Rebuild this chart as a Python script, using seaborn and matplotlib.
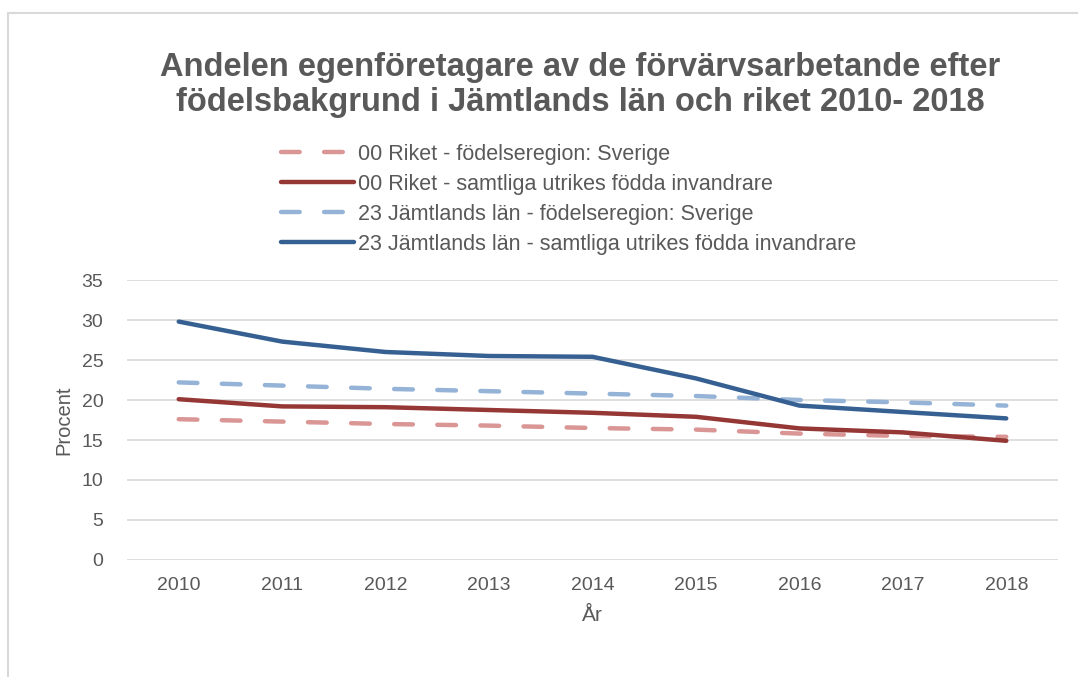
import pandas as pd
import matplotlib
matplotlib.use("Agg")
import matplotlib.pyplot as plt
from matplotlib.patches import Rectangle
import seaborn as sns

# data
years = ["2010", "2011", "2012", "2013", "2014", "2015", "2016", "2017", "2018"]
riket_sverige = [17.6, 17.3, 17.0, 16.8, 16.5, 16.3, 15.8, 15.5, 15.4]
riket_utrikes = [20.1, 19.2, 19.1, 18.75, 18.4, 17.9, 16.45, 15.95, 14.9]
jamt_sverige = [22.2, 21.8, 21.4, 21.1, 20.8, 20.5, 20.0, 19.7, 19.3]
jamt_utrikes = [29.8, 27.3, 26.0, 25.5, 25.4, 22.7, 19.3, 18.5, 17.7]

series_names = [
    "00 Riket - födelseregion: Sverige",
    "00 Riket - samtliga utrikes födda invandrare",
    "23 Jämtlands län - födelseregion: Sverige",
    "23 Jämtlands län - samtliga utrikes födda invandrare",
]
series_values = [riket_sverige, riket_utrikes, jamt_sverige, jamt_utrikes]

df = pd.concat(
    [pd.DataFrame({"År": years, "Procent": vals, "serie": name})
     for name, vals in zip(series_names, series_values)],
    ignore_index=True,
)

palette = dict(zip(series_names, ["#D99694", "#953735", "#95B3D7", "#376092"]))
dashes = dict(zip(series_names, [(4.2, 5.5), "", (4.2, 5.5), ""]))

sns.set_style("white")
plt.rcParams["font.family"] = ["Liberation Sans", "DejaVu Sans"]
text_color = "#595959"

fig = plt.figure(figsize=(10.78, 6.77), dpi=100)
ax = fig.add_axes([127 / 1078, 117 / 677, 931 / 1078, 280 / 677])

sns.lineplot(data=df, x="År", y="Procent", hue="serie", style="serie",
             palette=palette, dashes=dashes, linewidth=3.2, sort=False,
             dash_capstyle="round", solid_capstyle="round", ax=ax, legend=False)

ax.set_xlim(-0.5, len(years) - 0.5)
ax.set_ylim(0, 35)
ax.set_yticks(range(0, 36, 5))
ax.grid(axis="y", color="#D9D9D9", lw=1.2)
ax.grid(axis="x", visible=False)
ax.set_axisbelow(True)
for s in ax.spines.values():
    s.set_visible(False)
ax.tick_params(axis="both", length=0, labelsize=14, colors=text_color)
ax.tick_params(axis="y", pad=17)
ax.tick_params(axis="x", pad=12)
ax.set_xlabel("År", fontsize=15, color=text_color, labelpad=9)
ax.set_ylabel("Procent", fontsize=14.5, color=text_color, labelpad=6)

# legend above the plot
handles = ax.lines[:4]
leg = fig.legend(handles, series_names, loc="upper left",
                 bbox_to_anchor=(272 / 1078, 1 - 135 / 677), frameon=False,
                 fontsize=15.5, handlelength=3.4, handletextpad=0.2,
                 labelspacing=0.42, borderaxespad=0)
for t in leg.get_texts():
    t.set_color(text_color)

fig.text(580 / 1078, 1 - 85 / 677,
         "Andelen egenföretagare av de förvärvsarbetande efter\nfödelsbakgrund i Jämtlands län och riket 2010- 2018",
         ha="center", va="center", fontsize=23.5, fontweight="bold",
         color=text_color, linespacing=1.2)

# chart border
fig.patches.append(Rectangle((8 / 1078, -0.05), 1.2, 1 - 13 / 677 + 0.05,
                             transform=fig.transFigure, fill=False,
                             edgecolor="#D9D9D9", lw=1.5))

fig.savefig("out.png", dpi=100)
